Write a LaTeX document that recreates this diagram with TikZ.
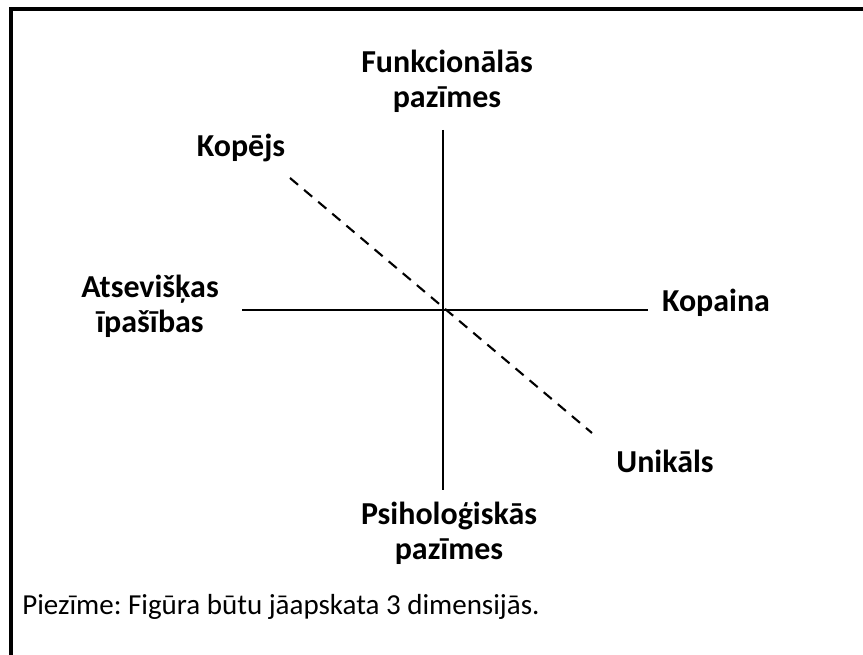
\documentclass[tikz,border=0pt]{standalone}
\usepackage{fontspec}
\setmainfont{Carlito}
\usepackage{tikz}
\usetikzlibrary{positioning,calc}
\frenchspacing

\begin{document}
\begin{tikzpicture}[x=0.02cm,y=-0.02cm,
    lbl/.style={font=\fontsize{18.2}{19.9}\selectfont\bfseries,align=center,inner sep=0pt},
    axis/.style={line width=1.2pt},
    diag/.style={line width=1.2pt,dash pattern=on 6pt off 4.5pt}]
  \useasboundingbox (0,0) rectangle (863,655);
  \clip (0,0) rectangle (863,655);
  % frame (right and bottom edges run off the page)
  \draw[line width=1.8pt] (11,9) rectangle (880,680);
  % axis ends
  \coordinate (top) at (443,130);
  \coordinate (bot) at (443,490);
  \coordinate (lft) at (242,310);
  \coordinate (rgt) at (648,310);
  \coordinate (dA) at (290,178);
  \coordinate (dB) at (592,433);
  \draw[axis] (top) -- (bot);
  \draw[axis] (lft) -- (rgt);
  \draw[diag] (dA) -- (dB);
  % labels
  \node[lbl] (funk) at (447,81) {Funkcionālās\\pazīmes};
  \node[lbl] (psih) at (449,533) {Psiholoģiskās\\pazīmes};
  \node[lbl] (atse) at (150,306) {Atsevišķas\\īpašības};
  \node[lbl] (kopa) at (716,303) {Kopaina};
  \node[lbl] (kopj) at (241,148) {Kopējs};
  \node[lbl] (unik) at (665,461) {Unikāls};
  \node[font=\fontsize{16.5}{19}\selectfont,anchor=west,inner sep=0pt] (piez) at (22,607)
    {Piezīme: Figūra būtu jāapskata 3 dimensijās.};
\end{tikzpicture}
\end{document}
